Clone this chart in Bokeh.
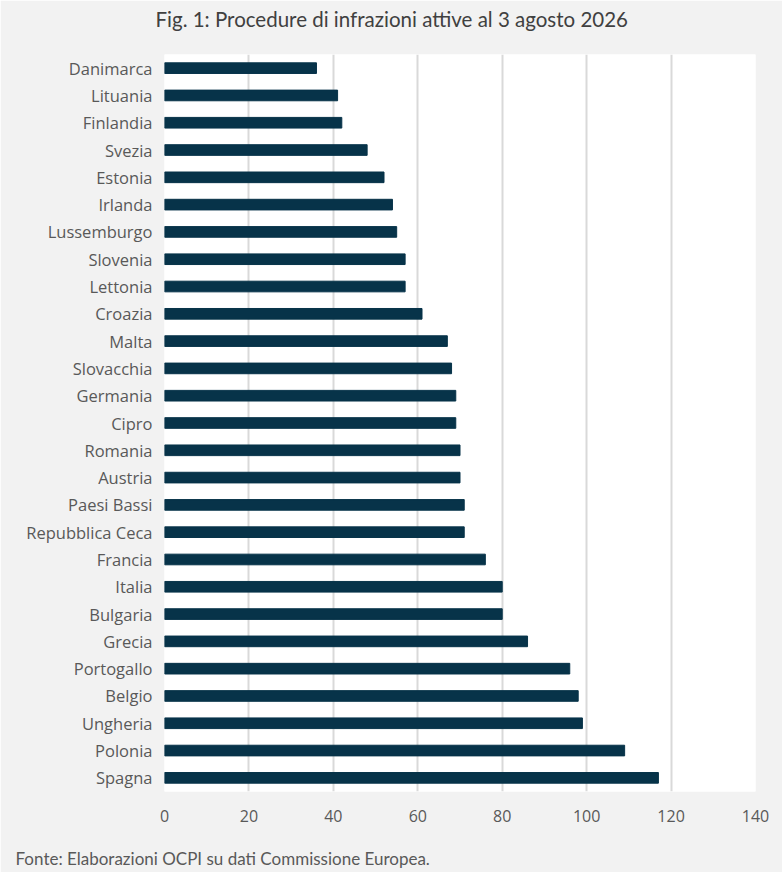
from bokeh.plotting import figure
from bokeh.models import FactorRange, Range1d, Title, FixedTicker
from bokeh.embed import file_html
from bokeh.resources import INLINE

countries = ["Danimarca", "Lituania", "Finlandia", "Svezia", "Estonia", "Irlanda",
             "Lussemburgo", "Slovenia", "Lettonia", "Croazia", "Malta", "Slovacchia",
             "Germania", "Cipro", "Romania", "Austria", "Paesi Bassi", "Repubblica Ceca",
             "Francia", "Italia", "Bulgaria", "Grecia", "Portogallo", "Belgio",
             "Ungheria", "Polonia", "Spagna"]
values = [36, 41, 42, 48, 52, 54, 55, 57, 57, 61, 67, 68, 69, 69, 70, 70, 71, 71,
          76, 80, 80, 86, 96, 98, 99, 109, 117]
x_ticks = [0, 20, 40, 60, 80, 100, 120, 140]

title_text = "Fig. 1: Procedure di infrazioni attive al 3 agosto 2026"
source_text = "Fonte: Elaborazioni OCPI su dati Commissione Europea."

BG = "#f2f2f2"
W, H = 782, 872

p = figure(width=W, height=H, output_backend="svg", toolbar_location=None, title=None,
           y_range=FactorRange(factors=list(reversed(countries))),
           x_range=Range1d(0, 140),
           min_border_left=164, min_border_right=27, min_border_top=54,
           min_border_bottom=81)
p.background_fill_color = "white"
p.border_fill_color = BG
p.outline_line_color = None

p.hbar(y=countries, right=values, left=0, height=0.39, color="#073349")

p.xaxis.ticker = FixedTicker(ticks=x_ticks)
p.xaxis.axis_line_color = None
p.xaxis.major_tick_line_color = None
p.xaxis.minor_tick_line_color = None
p.xaxis.major_tick_out = 0
p.xaxis.major_label_text_font = "Open Sans"
p.xaxis.major_label_text_font_size = "16px"
p.xaxis.major_label_text_color = "#595959"
p.xaxis.major_label_standoff = 18

p.yaxis.axis_line_color = None
p.yaxis.major_tick_line_color = None
p.yaxis.minor_tick_line_color = None
p.yaxis.major_tick_out = 0
p.yaxis.major_label_text_font = "Open Sans"
p.yaxis.major_label_text_font_size = "16.5px"
p.yaxis.major_label_text_color = "#595959"
p.yaxis.major_label_standoff = 12

p.ygrid.grid_line_color = None
p.xgrid.grid_line_color = "#d9d9d9"
p.xgrid.grid_line_width = 2

# spacer between frame and title
p.add_layout(Title(text=" ", text_font_size="10px", standoff=9,
                   text_color=BG), "above")
p.add_layout(Title(text=title_text, align="left", offset=-9, standoff=4,
                   text_font="Lato", text_font_size="20.5px", text_font_style="normal",
                   text_color="#404040"), "above")

# spacer between axis and footer
p.add_layout(Title(text=" ", text_font_size="10px", standoff=9,
                   text_color=BG), "below")
p.add_layout(Title(text=source_text, align="left", offset=-149, standoff=2,
                   vertical_align="top",
                   text_font="Lato", text_font_size="17px", text_font_style="normal",
                   text_color="#595959"), "below")

html = file_html(p, INLINE)
open("out.html", "w").write(html)
